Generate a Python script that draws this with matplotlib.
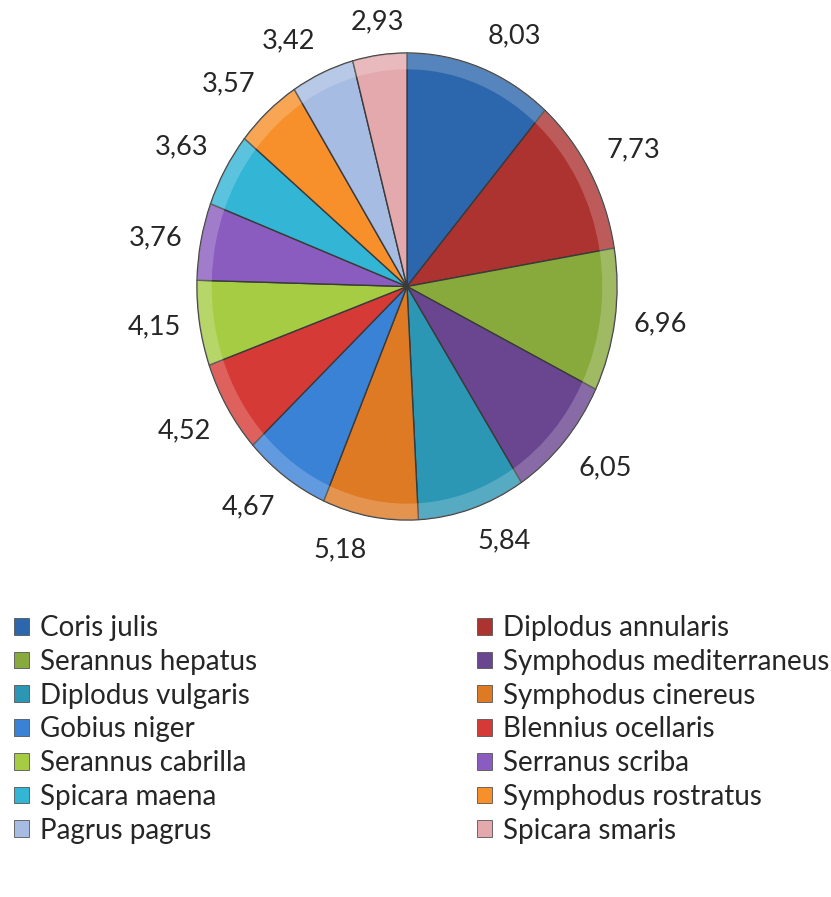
import numpy as np
import matplotlib.pyplot as plt
from matplotlib.patches import Patch, Wedge

plt.rcParams['font.family'] = ['Lato', 'DejaVu Sans']

# Species (legend order) and their values
species = ['Coris julis', 'Diplodus annularis', 'Serannus hepatus',
           'Symphodus mediterraneus', 'Diplodus vulgaris', 'Symphodus cinereus',
           'Gobius niger', 'Blennius ocellaris', 'Serannus cabrilla',
           'Serranus scriba', 'Spicara maena', 'Symphodus rostratus',
           'Pagrus pagrus', 'Spicara smaris']
values = [8.03, 7.73, 6.96, 6.05, 5.84, 5.18, 4.67, 4.52, 4.15, 3.76,
          3.63, 3.57, 3.42, 2.93]
colors = ['#2C66AC', '#AC3330', '#88AA3C', '#6A4690', '#2C97B5', '#DE7A24',
          '#3A82D6', '#D63A36', '#A6CC44', '#8A5CBF', '#33B5D6', '#F7902A',
          '#A6BCE2', '#E3A9AD']

fig = plt.figure(figsize=(8.31, 8.97), dpi=100)
W, H = 831, 897

# pie area is a bit taller than wide in the original
ax = fig.add_axes([197 / W, 1 - 520 / H, 420 / W, 467 / H])
wedges, _ = ax.pie(values, colors=colors, startangle=90, counterclock=False,
                   wedgeprops=dict(edgecolor='#3a3a3a', linewidth=1.0))
ax.set_aspect('auto')
ax.set_xlim(-1, 1)
ax.set_ylim(-1, 1)

# soft bevel: lighter rim along the outer edge of every slice
for w in wedges:
    ax.add_patch(Wedge((0, 0), 1.0, w.theta1, w.theta2, width=0.07,
                       facecolor='white', alpha=0.2, linewidth=0))

# value labels just outside each slice
for w, v in zip(wedges, values):
    ang = np.deg2rad((w.theta1 + w.theta2) / 2)
    dx, dy = np.cos(ang), np.sin(ang)
    x, y = 1.09 * dx, 1.09 * dy
    ha = 'left' if dx > 0.15 else ('right' if dx < -0.15 else 'center')
    va = 'bottom' if dy > 0.3 else ('top' if dy < -0.3 else 'center')
    ax.text(x, y, f'{v:.2f}'.replace('.', ','), ha=ha, va=va,
            fontsize=19.5, color='#262626')

handles = [Patch(facecolor=c, edgecolor='#555555', linewidth=0.6) for c in colors]
legend_kw = dict(frameon=False, fontsize=20, handlelength=0.55, handleheight=0.55,
                 handletextpad=0.38, labelspacing=0.28, borderpad=0, borderaxespad=0,
                 loc='upper left')
for col, x0 in ((0, 14 / W), (1, 477 / W)):
    idx = list(range(col, len(species), 2))
    leg = fig.legend([handles[i] for i in idx], [species[i] for i in idx],
                     bbox_to_anchor=(x0, 1 - 615 / H), **legend_kw)
    for t in leg.get_texts():
        t.set_color('#262626')

fig.savefig('out.png', dpi=100)
